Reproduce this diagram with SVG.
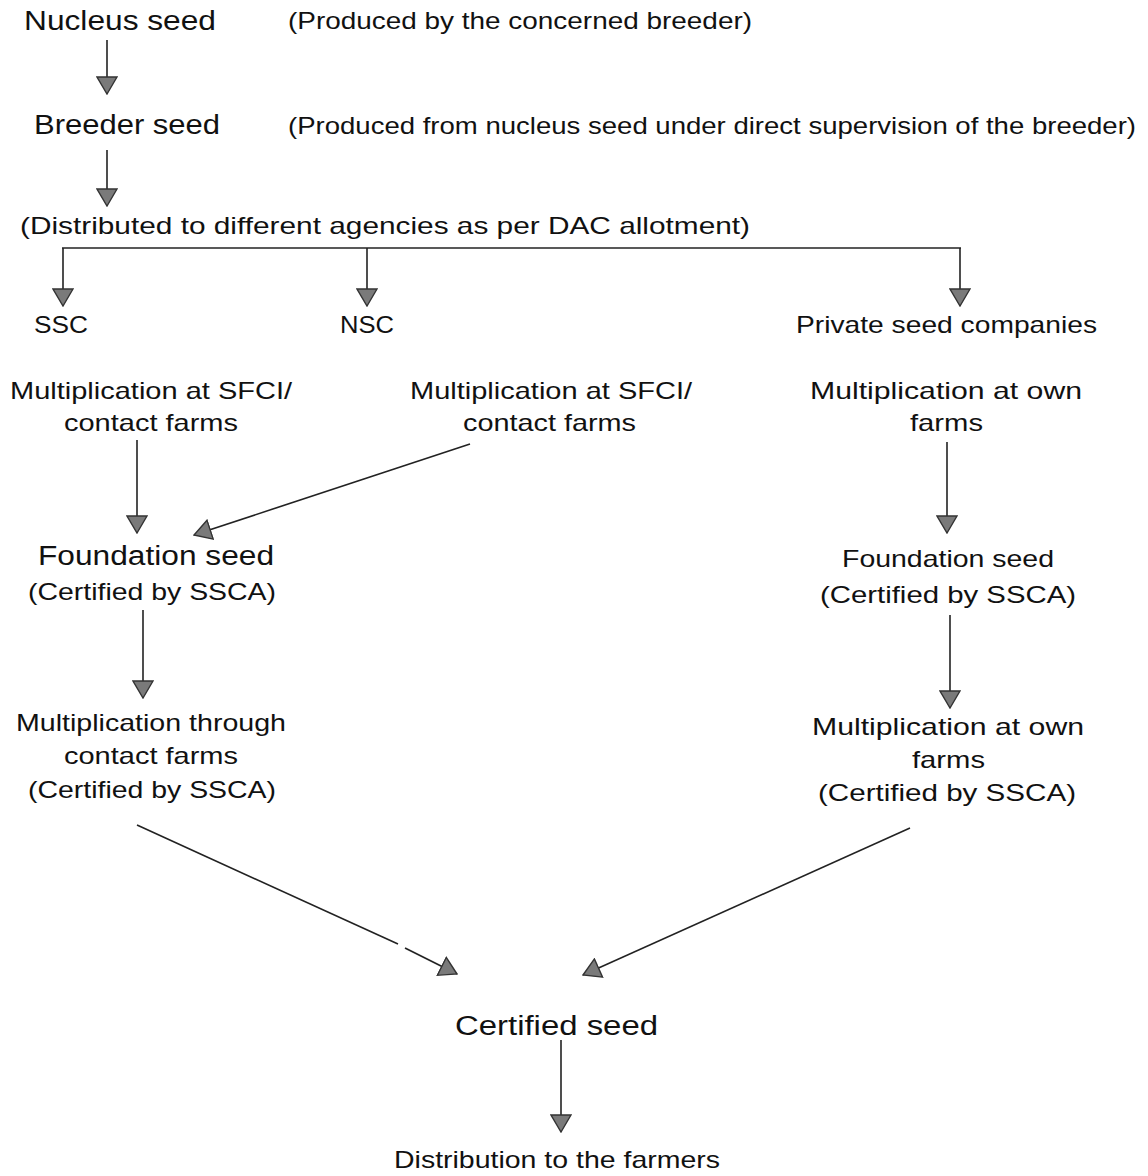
<svg xmlns="http://www.w3.org/2000/svg" width="1148" height="1176" viewBox="0 0 1148 1176">
<style>
text{font-family:"Liberation Sans",Arial,sans-serif;fill:#111}
.l{font-size:27px}
.s{font-size:24px}
.c{stroke:#222;stroke-width:1.6;fill:none}
</style>
<defs>
<marker id="ah" markerUnits="userSpaceOnUse" viewBox="0 0 19 22" refX="18" refY="11" markerWidth="19" markerHeight="22" orient="auto">
<path d="M1,1 L18,11 L1,21 z" fill="#7a7a7a" stroke="#333" stroke-width="1.4"/>
</marker>
</defs>
<rect width="1148" height="1176" fill="#fff"/>
<g id="connectors">
<line class="c" x1="107" y1="40" x2="107" y2="94" marker-end="url(#ah)"/>
<line class="c" x1="107" y1="150" x2="107" y2="206" marker-end="url(#ah)"/>
<line class="c" x1="62" y1="248" x2="961" y2="248"/>
<line class="c" x1="63" y1="248" x2="63" y2="306" marker-end="url(#ah)"/>
<line class="c" x1="367" y1="248" x2="367" y2="306" marker-end="url(#ah)"/>
<line class="c" x1="960" y1="248" x2="960" y2="306" marker-end="url(#ah)"/>
<line class="c" x1="137" y1="440" x2="137" y2="533" marker-end="url(#ah)"/>
<line class="c" x1="470" y1="444" x2="194" y2="535" marker-end="url(#ah)"/>
<line class="c" x1="947" y1="442" x2="947" y2="533" marker-end="url(#ah)"/>
<line class="c" x1="143" y1="610" x2="143" y2="698" marker-end="url(#ah)"/>
<line class="c" x1="950" y1="615" x2="950" y2="708" marker-end="url(#ah)"/>
<path class="c" d="M137,825 L398,944"/>
<line class="c" x1="405" y1="948" x2="457" y2="974" marker-end="url(#ah)"/>
<line class="c" x1="910" y1="828" x2="583" y2="975" marker-end="url(#ah)"/>
<line class="c" x1="561" y1="1040" x2="561" y2="1132" marker-end="url(#ah)"/>
</g>
<g id="nucleus"><text class="l" x="24" y="30" textLength="192" lengthAdjust="spacingAndGlyphs">Nucleus seed</text>
<text class="s" x="288" y="29" textLength="464" lengthAdjust="spacingAndGlyphs">(Produced by the concerned breeder)</text></g>
<g id="breeder"><text class="l" x="34" y="134" textLength="186" lengthAdjust="spacingAndGlyphs">Breeder seed</text>
<text class="s" x="288" y="134" textLength="848" lengthAdjust="spacingAndGlyphs">(Produced from nucleus seed under direct supervision of the breeder)</text></g>
<g id="distributed"><text class="s" x="20" y="234" textLength="730" lengthAdjust="spacingAndGlyphs">(Distributed to different agencies as per DAC allotment)</text></g>
<g id="ssc"><text class="s" x="34" y="333" textLength="54" lengthAdjust="spacingAndGlyphs">SSC</text></g>
<g id="nsc"><text class="s" x="340" y="333" textLength="54" lengthAdjust="spacingAndGlyphs">NSC</text></g>
<g id="private"><text class="s" x="796" y="333" textLength="301" lengthAdjust="spacingAndGlyphs">Private seed companies</text></g>
<g id="mult-ssc"><text class="s" x="10" y="399" textLength="282" lengthAdjust="spacingAndGlyphs">Multiplication at SFCI/</text>
<text class="s" x="64" y="431" textLength="174" lengthAdjust="spacingAndGlyphs">contact farms</text></g>
<g id="mult-nsc"><text class="s" x="410" y="399" textLength="282" lengthAdjust="spacingAndGlyphs">Multiplication at SFCI/</text>
<text class="s" x="463" y="431" textLength="173" lengthAdjust="spacingAndGlyphs">contact farms</text></g>
<g id="mult-private"><text class="s" x="810" y="399" textLength="272" lengthAdjust="spacingAndGlyphs">Multiplication at own</text>
<text class="s" x="910" y="431" textLength="73" lengthAdjust="spacingAndGlyphs">farms</text></g>
<g id="foundation-left"><text class="l" x="38" y="565" textLength="236" lengthAdjust="spacingAndGlyphs">Foundation seed</text>
<text class="s" x="28" y="600" textLength="248" lengthAdjust="spacingAndGlyphs">(Certified by SSCA)</text></g>
<g id="foundation-right"><text class="s" x="842" y="567" textLength="212" lengthAdjust="spacingAndGlyphs">Foundation seed</text>
<text class="s" x="820" y="603" textLength="256" lengthAdjust="spacingAndGlyphs">(Certified by SSCA)</text></g>
<g id="mult-through"><text class="s" x="16" y="731" textLength="270" lengthAdjust="spacingAndGlyphs">Multiplication through</text>
<text class="s" x="64" y="764" textLength="174" lengthAdjust="spacingAndGlyphs">contact farms</text>
<text class="s" x="28" y="798" textLength="248" lengthAdjust="spacingAndGlyphs">(Certified by SSCA)</text></g>
<g id="mult-own"><text class="s" x="812" y="735" textLength="272" lengthAdjust="spacingAndGlyphs">Multiplication at own</text>
<text class="s" x="912" y="768" textLength="73" lengthAdjust="spacingAndGlyphs">farms</text>
<text class="s" x="818" y="801" textLength="258" lengthAdjust="spacingAndGlyphs">(Certified by SSCA)</text></g>
<g id="certified"><text class="l" x="455" y="1035" textLength="203" lengthAdjust="spacingAndGlyphs">Certified  seed</text></g>
<g id="distribution"><text class="s" x="394" y="1168" textLength="326" lengthAdjust="spacingAndGlyphs">Distribution to the farmers</text></g>
</svg>
